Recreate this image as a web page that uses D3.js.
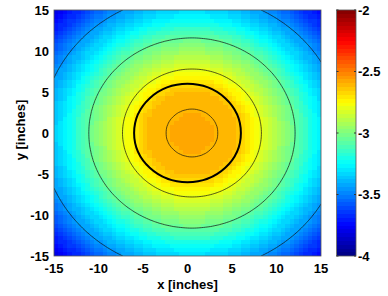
<!DOCTYPE html>
<html>
<head>
<meta charset="utf-8">
<script src="https://cdn.jsdelivr.net/npm/d3@7"></script>
<style>
  html, body { margin: 0; padding: 0; background: #fff; }
  svg text { font-family: "Liberation Sans", Arial, sans-serif; font-weight: bold; fill: #000; }
</style>
</head>
<body>
<svg id="chart" width="388" height="296"></svg>
<script>
// radial profile of the field (distance from field centre, inches -> value)
const profileR = [0, 2.9, 5.0, 6.0, 7.8, 11.6, 14.0, 15.5, 16.9, 19.0, 22.0];
const profileV = [-2.56, -2.6, -2.62, -2.67, -2.8, -3.05, -3.25, -3.36, -3.45, -3.62, -3.86];
const fieldCenter = [0.5, 0];
const contourLevels = [-3.45, -3.05, -2.8, -2.6];
const diskRadius = 6;
const axisTicks = [-15, -10, -5, 0, 5, 10, 15];
const colorTicks = [-2, -2.5, -3, -3.5, -4];
const colorDomain = [-4, -2];

const svg = d3.select("#chart");
const plot = { left: 54, right: 321, top: 10, bottom: 256 };
const bar = { left: 336.5, right: 356, top: 10, bottom: 256 };

const x = d3.scaleLinear().domain([-15, 15]).range([plot.left, plot.right]);
const y = d3.scaleLinear().domain([-15, 15]).range([plot.bottom, plot.top]);
const profile = d3.scaleLinear().domain(profileR).range(profileV).clamp(true);
const cScale = d3.scaleLinear().domain(colorDomain).range([0, 1]).clamp(true);

function field(px, py) {
  return profile(Math.hypot(px - fieldCenter[0], py - fieldCenter[1]));
}

// MATLAB jet(64)
function jet(t) {
  const k = Math.min(63, Math.max(0, Math.floor(t * 64)));
  const u = (k + 0.5) / 64;
  const f = (v) => Math.round(255 * Math.max(0, Math.min(1, v)));
  return `rgb(${f(1.5 - Math.abs(4 * u - 3))},${f(1.5 - Math.abs(4 * u - 2))},${f(1.5 - Math.abs(4 * u - 1))})`;
}

// heat map cells
const cell = 0.5;
const cells = [];
for (let cx = -15; cx < 15; cx += cell) {
  for (let cy = -15; cy < 15; cy += cell) {
    cells.push({ x: cx, y: cy, v: field(cx + cell / 2, cy + cell / 2) });
  }
}

svg.append("g").selectAll("rect").data(cells).join("rect")
  .attr("x", (d) => x(d.x))
  .attr("y", (d) => y(d.y + cell))
  .attr("width", x(cell) - x(0) + 0.3)
  .attr("height", y(0) - y(cell) + 0.3)
  .attr("fill", (d) => jet(cScale(d.v)))
  .attr("shape-rendering", "crispEdges");

// contour lines
const n = 151;
const step = 30 / (n - 1);
const grid = new Array(n * n);
for (let j = 0; j < n; j++) {
  for (let i = 0; i < n; i++) {
    grid[j * n + i] = field(-15 + i * step, -15 + j * step);
  }
}
const contours = d3.contours().size([n, n]).thresholds(contourLevels)(grid);
const proj = d3.geoTransform({
  point(gx, gy) {
    this.stream.point(x(-15 + (gx - 0.5) * step), y(-15 + (gy - 0.5) * step));
  }
});
svg.append("clipPath").attr("id", "plotClip").append("rect")
  .attr("x", plot.left).attr("y", plot.top)
  .attr("width", plot.right - plot.left).attr("height", plot.bottom - plot.top);

svg.append("g").attr("clip-path", "url(#plotClip)")
  .selectAll("path").data(contours).join("path")
  .attr("d", d3.geoPath(proj))
  .attr("fill", "none")
  .attr("stroke", "#111")
  .attr("stroke-width", 0.7);

// disk outline
svg.append("ellipse")
  .attr("cx", x(0)).attr("cy", y(0))
  .attr("rx", x(diskRadius) - x(0))
  .attr("ry", y(0) - y(diskRadius))
  .attr("fill", "none")
  .attr("stroke", "#000")
  .attr("stroke-width", 2);

svg.append("rect")
  .attr("x", plot.left).attr("y", plot.top)
  .attr("width", plot.right - plot.left).attr("height", plot.bottom - plot.top)
  .attr("fill", "none").attr("stroke", "#555").attr("stroke-width", 0.8);

// axes tick labels
svg.append("g").selectAll("text").data(axisTicks).join("text")
  .attr("x", (d) => x(d))
  .attr("y", plot.bottom + 16.5)
  .attr("text-anchor", "middle")
  .attr("font-size", "13px")
  .text((d) => d);

svg.append("g").selectAll("text").data(axisTicks).join("text")
  .attr("x", plot.left - 5)
  .attr("y", (d) => y(d))
  .attr("dy", "0.36em")
  .attr("text-anchor", "end")
  .attr("font-size", "13px")
  .text((d) => d);

svg.append("text")
  .attr("x", (plot.left + plot.right) / 2)
  .attr("y", 289)
  .attr("text-anchor", "middle")
  .attr("font-size", "13px")
  .text("x [inches]");

svg.append("text")
  .attr("transform", `translate(25,${(plot.top + plot.bottom) / 2 - 3}) rotate(-90)`)
  .attr("text-anchor", "middle")
  .attr("font-size", "13px")
  .text("y [inches]");

// colour bar
const cb = d3.scaleLinear().domain(colorDomain).range([bar.bottom, bar.top]);
const bands = d3.range(64);
const bandH = (bar.bottom - bar.top) / 64;
svg.append("g").selectAll("rect").data(bands).join("rect")
  .attr("x", bar.left)
  .attr("y", (k) => cb(colorDomain[0] + (k + 1) * (colorDomain[1] - colorDomain[0]) / 64))
  .attr("width", bar.right - bar.left)
  .attr("height", bandH + 0.3)
  .attr("fill", (k) => jet((k + 0.5) / 64))
  .attr("shape-rendering", "crispEdges");

svg.append("rect")
  .attr("x", bar.left).attr("y", bar.top)
  .attr("width", bar.right - bar.left).attr("height", bar.bottom - bar.top)
  .attr("fill", "none").attr("stroke", "#555").attr("stroke-width", 0.8);

const cTicks = svg.append("g").selectAll("g").data(colorTicks).join("g");
cTicks.append("line")
  .attr("x1", bar.left).attr("x2", bar.left + 2)
  .attr("y1", (d) => cb(d)).attr("y2", (d) => cb(d))
  .attr("stroke", "#333");
cTicks.append("line")
  .attr("x1", bar.right - 2).attr("x2", bar.right)
  .attr("y1", (d) => cb(d)).attr("y2", (d) => cb(d))
  .attr("stroke", "#333");
cTicks.append("text")
  .attr("x", bar.right + 2)
  .attr("y", (d) => cb(d))
  .attr("dy", "0.36em")
  .attr("font-size", "13px")
  .text((d) => d);
</script>
</body>
</html>
